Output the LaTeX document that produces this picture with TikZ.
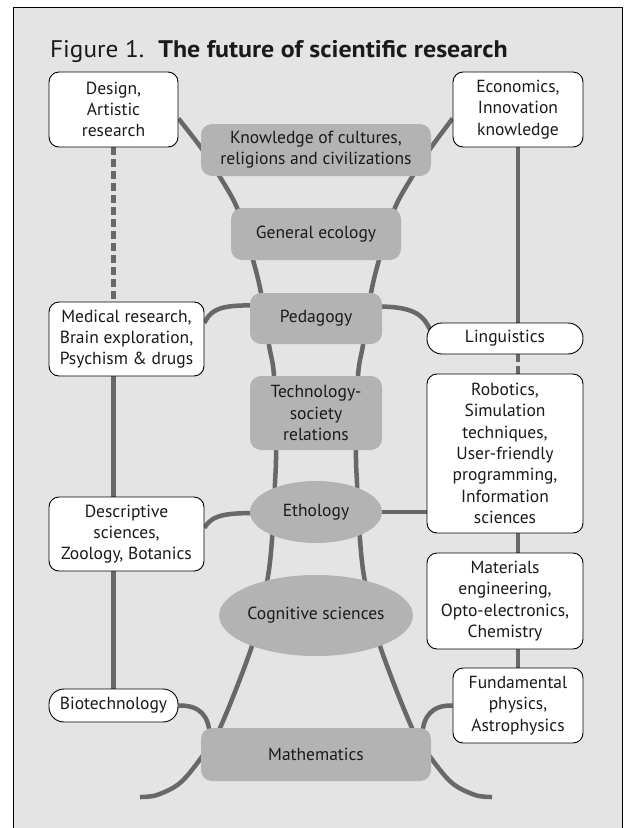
\documentclass[tikz,border=0pt]{standalone}
\usepackage{fontspec}
\setmainfont{PT Sans}[FakeStretch=1.0]
\newfontfamily\titlereg{PT Sans}[FakeStretch=1.05]
\newfontfamily\titlebold{PT Sans}[FakeStretch=1.08]
\usetikzlibrary{shapes.geometric,calc}
\pgfdeclarelayer{background}
\pgfsetlayers{background,main}
\definecolor{bg}{HTML}{E4E4E4}
\definecolor{boxgray}{HTML}{B3B3B3}
\definecolor{strand}{HTML}{686868}
\definecolor{ink}{HTML}{1A1A1A}
\tikzset{
  txt/.style={align=center, inner sep=0pt, text=ink, font=\fontsize{17.5}{21.3}\selectfont},
  wbox/.style={txt, draw=black, line width=0.9pt, fill=white, rounded corners=10pt},
  pill/.style={wbox, rounded corners=15pt},
  gbox/.style={txt, fill=boxgray, rounded corners=11pt},
  gell/.style={txt, ellipse, fill=boxgray},
  link/.style={draw=strand, line width=4.5pt},
  dlink/.style={link, dash pattern=on 8pt off 4pt},
}
\begin{document}
\begin{tikzpicture}[x=1pt,y=-1pt]
\useasboundingbox (0,0) rectangle (629,828);
% title
\node[anchor=base west, inner sep=0pt, text=ink, font=\fontsize{24}{28}\selectfont] (title) at (50,57) {\titlereg Figure 1.\hspace{14pt}{\titlebold\bfseries The future of scientific research}};
% white boxes
\node[wbox, minimum width=129pt, minimum height=75pt] (design) at (113.5,109.5) {Design,\\Artistic\\research};
\node[wbox, minimum width=130pt, minimum height=75pt] (econ) at (518,109.5) {Economics,\\Innovation\\knowledge};
\node[wbox, minimum width=155pt, minimum height=74pt] (med) at (126.5,339) {Medical research,\\Brain exploration,\\Psychism \& drugs};
\node[pill, minimum width=156pt, minimum height=31pt] (ling) at (505,338.5) {Linguistics};
\node[wbox, minimum width=156pt, minimum height=159pt] (rob) at (505,453.5) {Robotics,\\Simulation\\techniques,\\User-friendly\\programming,\\Information\\sciences};
\node[wbox, minimum width=155pt, minimum height=74pt] (desc) at (126.5,534) {Descriptive\\sciences,\\Zoology, Botanics};
\node[wbox, minimum width=156pt, minimum height=96pt] (mat) at (505,601) {Materials\\engineering,\\Opto-electronics,\\Chemistry};
\node[pill, minimum width=129pt, minimum height=33pt] (bio) at (113.5,705.5) {Biotechnology};
\node[wbox, minimum width=130pt, minimum height=75pt] (fund) at (518,705.5) {Fundamental\\physics,\\Astrophysics};
% gray nodes
\node[gbox, minimum width=230pt, minimum height=52pt] (know) at (316,150) {Knowledge of cultures,\\religions and civilizations};
\node[gbox, minimum width=170pt, minimum height=52pt] (geco) at (316,234) {General ecology};
\node[gbox, minimum width=132pt, minimum height=51pt] (ped) at (316,318.5) {Pedagogy};
\node[gbox, minimum width=132pt, minimum height=74pt] (tech) at (316,413) {Technology-\\society\\relations};
\node[gell, minimum width=132pt, minimum height=62pt] (eth) at (316,512) {Ethology};
\node[gell, minimum width=170pt, minimum height=81pt] (cog) at (316,615.5) {Cognitive sciences};
\node[gbox, minimum width=230pt, minimum height=53pt] (math) at (316,754.5) {Mathematics};
% helper coordinates
\coordinate (ls0) at ($(design.east)+(0,9)$);
\coordinate (rs0) at ($(econ.west)+(0,9)$);
\coordinate (lend) at (140,797);
\coordinate (rend) at (492,797);
\begin{pgfonlayer}{background}
\fill[bg] (13,7) rectangle (622,840);
\draw[black, line width=1pt] (13,840) -- (13,7) -- (622,7) -- (622,840);
% central strands
\draw[link] plot[smooth, tension=0.55] coordinates {(ls0) (202,149) (220,177) (238,210) (253,260) (261,293) (269,345) (274,376) (276,450) (275,483) (272,540) (267,582) (253,643) (220,728) (201,758) (180,783) (157,795) (lend)};
\draw[link] plot[smooth, tension=0.55] coordinates {(rs0) (430,149) (412,177) (394,210) (379,260) (371,293) (363,345) (358,376) (356,450) (357,483) (360,540) (365,582) (379,643) (412,728) (431,758) (452,783) (475,795) (rend)};
% side links
\draw[link] ($(med.east)+(0,-16)$) .. controls (212,306) and (228,305) .. ($(ped.west)+(10,-13)$);
\draw[link] ($(ped.east)+(-10,-12)$) .. controls (412,306) and (424,313) .. ($(ling.west)+(5,-5)$);
\draw[link] ($(desc.east)+(0,-6)$) .. controls (212,514) and (228,513) .. ($(eth.west)+(10,1)$);
\draw[link] (eth.east) -- (eth.east -| rob.west);
\draw[link] (bio.east) .. controls (200,705) and (209,716) .. ($(math.north west)+(9,8)$);
\draw[link] (fund.west) .. controls (432,705) and (423,716) .. ($(math.north east)+(-9,8)$);
% vertical links
\draw[dlink] (design.south) -- (design.south |- med.north);
\draw[link] (design.south |- med.south) -- (design.south |- desc.north);
\draw[link] (design.south |- desc.south) -- (bio.north);
\draw[link] (econ.south) -- (econ.south |- ling.north);
\draw[dlink] (econ.south |- ling.south) -- (econ.south |- rob.north);
\draw[link] (econ.south |- rob.south) -- (econ.south |- mat.north);
\draw[link] (econ.south |- mat.south) -- (fund.north);
\end{pgfonlayer}
\end{tikzpicture}
\end{document}
